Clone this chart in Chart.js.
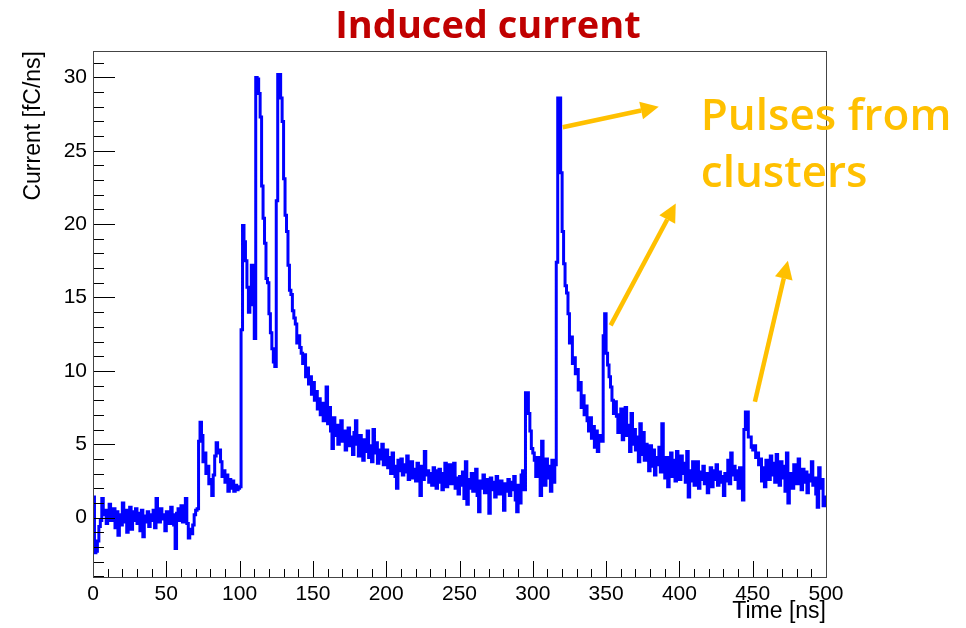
<!DOCTYPE html>
<html>
<head>
<meta charset="utf-8">
<title>Induced current</title>
<script src="https://cdn.jsdelivr.net/npm/chart.js"></script>
<style>
  html, body { margin: 0; padding: 0; background: #fff; }
  #wrap { width: 966px; height: 628px; position: relative; }
</style>
</head>
<body>
<div id="wrap"><canvas id="myChart" width="966" height="628"></canvas></div>
<script>
//---------- data (1 ns bins) ----------
const timeStart = 0;   // ns, left edge of first bin
const binWidth = 1;    // ns
const current = [
  1.4, -2.4, -2.3, -1.6, -0.6, -0.2, 1.3, 0.2, 0.5, -0.4,
  0.3, 0.9, -0.2, 0.1, 0.6, -0.7, 0.4, -1.2, 0.2, -0.5,
  1.0, -0.3, 0.5, -1.0, 0.2, 0.7, -0.8, 0.4, -0.2, 0.6,
  -0.4, 0.3, -0.9, 0.5, -1.3, 0.1, -0.3, 0.4, -0.6, 0.2,
  -0.2, 0.5, -0.7, 1.3, 0.3, -0.3, 0.6, -0.1, 0.2, -0.9,
  0.4, 0.1, -0.4, 0.7, 0.2, -0.5, -2.1, 0.3, 0.6, -0.2,
  0.8, -0.3, 0.4, 1.3, -0.4, -1.4, -0.8, -1.1, -0.5, 0.2,
  0.5, 0.6, 5.2, 6.5, 5.6, 3.8, 4.4, 3.0, 3.5, 2.3,
  2.6, 1.5, 2.9, 4.2, 5.1, 4.4, 4.6, 3.8, 2.8, 3.2,
  2.4, 2.9, 1.8, 2.6, 2.0, 2.5, 1.8, 2.2, 1.9, 2.0,
  2.1, 12.8, 19.9, 18.8, 17.5, 15.7, 14.0, 15.5, 17.2, 14.5,
  12.2, 30.0, 29.9, 28.9, 27.3, 22.6, 20.4, 18.7, 16.3, 16.0,
  13.9, 12.6, 11.5, 10.6, 10.3, 21.6, 30.2, 30.2, 28.6, 27.0,
  23.1, 20.6, 19.5, 17.2, 15.5, 15.2, 14.1, 13.6, 13.2, 11.9,
  12.4, 11.6, 11.2, 10.5, 11.1, 9.6, 10.2, 9.1, 9.6, 8.4,
  9.2, 8.0, 8.6, 7.4, 8.1, 7.0, 7.8, 6.6, 7.3, 8.9,
  6.4, 7.5, 5.9, 4.7, 6.8, 5.6, 6.3, 5.0, 5.8, 6.6,
  5.2, 5.9, 4.6, 5.4, 6.1, 4.9, 5.5, 4.3, 5.8, 6.6,
  5.0, 4.2, 5.6, 4.8, 3.9, 5.3, 4.5, 5.9, 4.1, 4.9,
  3.8, 6.0, 4.4, 5.1, 3.7, 4.6, 4.0, 5.0, 3.6, 4.3,
  4.6, 3.4, 4.1, 3.0, 4.4, 3.5, 2.8, 2.0, 3.9, 3.2,
  4.0, 2.9, 3.6, 3.1, 4.2, 2.6, 3.4, 3.8, 2.7, 3.3,
  2.5, 3.7, 3.0, 1.5, 3.5, 2.6, 4.5, 2.9, 3.2, 2.4,
  3.0, 2.2, 3.4, 3.2, 2.0, 2.8, 3.3, 2.4, 1.9, 3.0,
  3.7, 2.1, 2.9, 3.6, 2.3, 3.1, 3.7, 2.0, 2.7, 1.6,
  2.8, 2.2, 3.1, 1.3, 3.8, 0.9, 2.6, 2.0, 3.0, 1.8,
  2.4, 3.3, 1.5, 0.4, 2.5, 2.0, 2.9, 1.7, 2.6, 2.2,
  0.3, 2.7, 1.9, 2.4, 1.4, 2.8, 2.1, 1.6, 2.5, 2.0,
  0.5, 2.3, 1.8, 2.6, 1.5, 2.4, 1.9, 2.8, 1.2, 0.4,
  2.2, 1.0, 2.9, 3.2, 1.9, 8.5, 8.5, 7.1, 5.9, 4.7,
  4.4, 3.9, 2.8, 4.1, 3.4, 1.5, 5.2, 3.6, 2.2, 4.0,
  2.7, 3.5, 1.8, 3.9, 2.4, 3.6, 17.4, 28.6, 28.6, 23.5,
  19.5, 17.3, 15.8, 15.3, 13.9, 11.9, 12.3, 10.5, 10.9, 9.8,
  10.1, 8.7, 9.2, 7.5, 8.3, 7.0, 7.6, 6.6, 5.9, 6.8,
  5.4, 6.2, 4.8, 5.9, 4.5, 5.6, 5.4, 5.2, 12.4, 13.9,
  11.2, 10.4, 9.6, 8.9, 8.0, 7.1, 7.9, 6.9, 5.8, 7.0,
  7.4, 5.3, 6.8, 7.5, 5.6, 6.3, 4.5, 7.1, 5.0, 6.0,
  4.6, 5.5, 3.8, 6.4, 4.3, 5.8, 3.9, 5.0, 4.4, 3.2,
  4.9, 3.5, 4.6, 2.9, 4.1, 3.6, 4.8, 3.1, 6.4, 3.8,
  2.7, 4.1, 2.1, 3.5, 4.4, 2.8, 3.9, 2.5, 4.5, 3.3,
  2.6, 4.2, 3.0, 3.7, 2.4, 4.5, 1.4, 3.2, 2.5, 3.8,
  2.2, 3.4, 3.8, 2.0, 3.1, 2.6, 3.5, 2.3, 3.0, 1.7,
  2.9, 3.4, 2.1, 3.2, 2.6, 3.6, 2.2, 3.1, 2.4, 2.8,
  1.5, 3.0, 2.5, 3.9, 2.3, 4.4, 2.9, 3.5, 2.6, 3.2,
  2.0, 3.4, 2.2, 1.2, 6.0, 7.2, 7.2, 5.5, 5.5, 4.8,
  4.6, 4.9, 4.1, 4.4, 3.6, 4.0, 2.5, 3.4, 2.1, 3.9,
  3.3, 2.6, 4.2, 2.9, 3.7, 2.4, 4.3, 3.0, 2.2, 3.8,
  2.7, 3.5, 1.8, 4.4, 1.0, 2.5, 3.0, 2.0, 3.6, 2.8,
  2.3, 4.0, 2.6, 1.9, 3.3, 2.4, 3.1, 1.7, 2.9, 2.5,
  3.8, 2.2, 2.7, 1.6, 0.7, 3.4, 2.0, 2.6, 0.8, 1.4
];
const xTickValues = [0, 50, 100, 150, 200, 250, 300, 350, 400, 450, 500];
const yTickValues = [0, 5, 10, 15, 20, 25, 30];
const xMinorStep = 10;
const yMinorStep = 1;

const chartTitle = 'Induced current';
const noteLines = ['Pulses from', 'clusters'];

//---------- annotation placement (axis units: [time, current]) ----------
const noteAnchor = [414.6, 26.4];
const arrowTails = [[320.4, 26.6], [353.1, 13.1], [451.5, 7.9]];
const arrowTips  = [[385.9, 28.0], [397.5, 21.4], [474.0, 17.5]];

// histogram as step line: one point per bin left edge + closing edge
const points = current.map((v, i) => ({ x: timeStart + i * binWidth, y: v }));
points.push({ x: timeStart + current.length * binWidth, y: current[current.length - 1] });

//---------- ROOT style frame, inner ticks, title, note ----------
const rootFrame = {
  id: 'rootFrame',
  afterDatasetsDraw(chart) {
    const { ctx, chartArea: a, scales: { x, y } } = chart;
    ctx.save();
    ctx.strokeStyle = '#000';
    ctx.lineWidth = 1;
    ctx.beginPath();
    for (let v = x.min; v <= x.max; v += xMinorStep) {
      const px = Math.round(x.getPixelForValue(v)) + 0.5;
      const len = (v % 50 === 0) ? 16 : 8;
      ctx.moveTo(px, a.bottom);
      ctx.lineTo(px, a.bottom - len);
    }
    for (let v = Math.ceil(y.min); v <= y.max; v += yMinorStep) {
      const py = Math.round(y.getPixelForValue(v)) + 0.5;
      const len = (v % 5 === 0) ? 22 : 11;
      ctx.moveTo(a.left, py);
      ctx.lineTo(a.left + len, py);
    }
    ctx.stroke();
    ctx.strokeStyle = '#444';
    ctx.strokeRect(Math.round(a.left) + 0.5, Math.round(a.top) + 0.5,
      Math.round(a.right - a.left), Math.round(a.bottom - a.top));
    ctx.restore();
  },
  afterDraw(chart) {
    const { ctx, scales: { x, y } } = chart;
    ctx.save();
    // title
    ctx.fillStyle = '#C00000';
    ctx.font = 'bold 38px "Open Sans"';
    ctx.textAlign = 'center';
    ctx.textBaseline = 'alphabetic';
    ctx.fillText(chartTitle, 488, 38);

    // note text
    ctx.fillStyle = '#FFC000';
    ctx.font = '600 44px "Open Sans"';
    ctx.textAlign = 'left';
    const nx = x.getPixelForValue(noteAnchor[0]);
    const ny = y.getPixelForValue(noteAnchor[1]);
    noteLines.forEach((t, i) => ctx.fillText(t, nx, ny + i * 57));

    // arrows
    ctx.strokeStyle = '#FFC000';
    ctx.lineWidth = 4.5;
    ctx.lineCap = 'butt';
    arrowTails.forEach((tail, i) => {
      const x0 = x.getPixelForValue(tail[0]), y0 = y.getPixelForValue(tail[1]);
      const x1 = x.getPixelForValue(arrowTips[i][0]), y1 = y.getPixelForValue(arrowTips[i][1]);
      const ang = Math.atan2(y1 - y0, x1 - x0);
      const headLen = 18, headHalf = 9;
      const bx = x1 - headLen * Math.cos(ang), by = y1 - headLen * Math.sin(ang);
      ctx.beginPath();
      ctx.moveTo(x0, y0);
      ctx.lineTo(bx, by);
      ctx.stroke();
      ctx.beginPath();
      ctx.moveTo(x1, y1);
      ctx.lineTo(bx + headHalf * Math.sin(ang), by - headHalf * Math.cos(ang));
      ctx.lineTo(bx - headHalf * Math.sin(ang), by + headHalf * Math.cos(ang));
      ctx.closePath();
      ctx.fill();
    });
    ctx.restore();
  }
};

const ctx = document.getElementById('myChart');
const axisFont = { family: 'Liberation Sans', size: 21 };
const titleFont = { family: 'Liberation Sans', size: 23 };

const chart = new Chart(ctx, {
  type: 'line',
  data: {
    datasets: [{
      data: points,
      borderColor: '#0000FF',
      borderWidth: 3,
      pointRadius: 0,
      stepped: true,
      fill: false
    }]
  },
  options: {
    responsive: false,
    animation: false,
    devicePixelRatio: 1,
    layout: { padding: { left: 0, right: 140, top: 51, bottom: 0 } },
    plugins: {
      legend: { display: false },
      tooltip: { enabled: false },
      title: { display: false }
    },
    scales: {
      x: {
        type: 'linear',
        min: 0,
        max: 500,
        grid: { display: false, drawTicks: false },
        border: { display: false },
        afterBuildTicks: s => { s.ticks = xTickValues.map(v => ({ value: v })); },
        afterFit: s => { s.height = 51; },
        ticks: { color: '#000', font: axisFont, padding: 5, maxRotation: 0, autoSkip: false },
        title: {
          display: true, text: 'Time [ns]', align: 'end', color: '#000',
          font: titleFont, padding: { top: 0, bottom: 3 }
        }
      },
      y: {
        type: 'linear',
        min: -4.05,
        max: 31.8,
        grid: { display: false, drawTicks: false },
        border: { display: false },
        afterBuildTicks: s => { s.ticks = yTickValues.map(v => ({ value: v })); },
        afterFit: s => { s.width = 93; },
        ticks: { color: '#000', font: axisFont, padding: 6 },
        title: {
          display: true, text: 'Current [fC/ns]', align: 'end', color: '#000',
          font: titleFont, padding: { top: 20, bottom: 0 }
        }
      }
    }
  },
  plugins: [rootFrame]
});
</script>
</body>
</html>
